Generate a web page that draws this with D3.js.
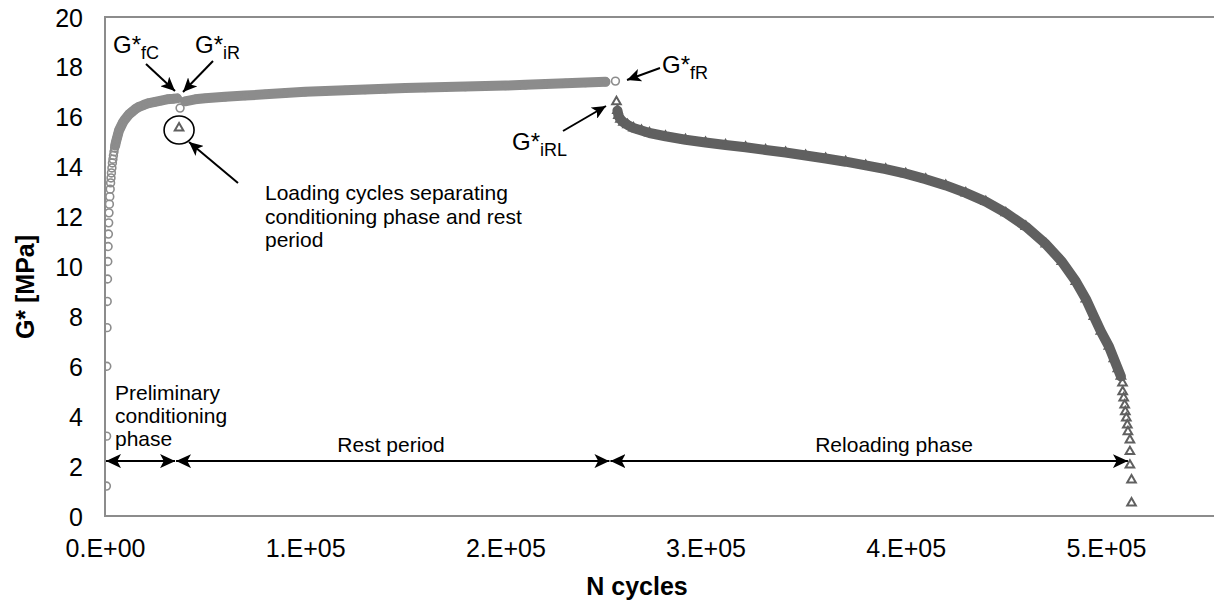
<!DOCTYPE html>
<html>
<head>
<meta charset="utf-8">
<script src="https://cdn.jsdelivr.net/npm/d3@7"></script>
<style>
  body { margin: 0; background: #fff; }
  svg { display: block; font-family: "Liberation Sans", Arial, sans-serif; }
</style>
</head>
<body>
<svg id="chart" width="1214" height="603"></svg>
<script>
// Complex shear modulus G* [MPa] against number of loading cycles N.
// Each entry is [N, G*].

// Preliminary conditioning phase (circles)
const conditioning = [
  [700, 1.2], [800, 3.2], [900, 6.0], [1000, 7.55], [1100, 8.6], [1250, 9.5],
  [1400, 10.2], [1550, 10.8], [1700, 11.3], [1850, 11.75], [2000, 12.15],
  [2200, 12.5], [2400, 12.8], [2600, 13.1], [2800, 13.35], [3000, 13.55],
  [3200, 13.75], [3450, 13.95], [3700, 14.15], [3950, 14.3], [4200, 14.45],
  [4500, 14.6], [4800, 14.75], [5100, 14.85], [5500, 15.0], [6000, 15.15],
  [6500, 15.3], [7000, 15.45], [7600, 15.55], [8200, 15.65], [9000, 15.78],
  [10000, 15.9], [11000, 16.0], [12000, 16.1], [13500, 16.2], [15000, 16.3],
  [17000, 16.4], [19500, 16.48], [22000, 16.55], [25000, 16.6], [28000, 16.65],
  [31000, 16.7], [34000, 16.72], [36000, 16.74]
];

// Rest period (circles)
const restPeriod = [
  [37500, 16.35], [40000, 16.62], [45000, 16.7], [50000, 16.74], [60000, 16.8],
  [70000, 16.85], [80000, 16.9], [90000, 16.95], [100000, 17.0], [110000, 17.03],
  [120000, 17.06], [130000, 17.09], [140000, 17.12], [150000, 17.15],
  [160000, 17.17], [170000, 17.19], [180000, 17.21], [190000, 17.23],
  [200000, 17.25], [210000, 17.28], [220000, 17.31], [230000, 17.34],
  [240000, 17.37], [250000, 17.4], [255000, 17.43]
];

// Loading cycles between conditioning phase and rest period (triangle)
const separatingCycles = [[37000, 15.55]];

// Reloading phase (triangles)
const reloading = [
  [255500, 16.6], [256000, 16.25], [256500, 16.05], [257500, 15.9],
  [259000, 15.78], [261000, 15.68], [264000, 15.55], [268000, 15.45],
  [272000, 15.35], [280000, 15.22], [290000, 15.08], [300000, 14.97],
  [310000, 14.87], [320000, 14.78], [330000, 14.67], [340000, 14.57],
  [350000, 14.45], [360000, 14.33], [370000, 14.2], [380000, 14.05],
  [390000, 13.9], [400000, 13.72], [410000, 13.5], [420000, 13.25],
  [430000, 12.95], [440000, 12.6], [450000, 12.15], [460000, 11.6],
  [470000, 10.9], [478000, 10.2], [485000, 9.4], [490000, 8.7],
  [494000, 8.0], [497500, 7.4], [501500, 6.8], [504000, 6.3],
  [506000, 5.9], [507500, 5.6], [508300, 5.33], [508400, 4.98],
  [508900, 4.73], [509400, 4.45], [509700, 4.18], [510200, 3.93],
  [510700, 3.65], [511000, 3.38], [512000, 3.05], [512000, 2.58],
  [512000, 2.04], [512800, 1.44], [512800, 0.52]
];

// Axis ticks
const xTicks = [0, 100000, 200000, 300000, 400000, 500000];
const xTickLabels = ["0.E+00", "1.E+05", "2.E+05", "3.E+05", "4.E+05", "5.E+05"];
const yTicks = [0, 2, 4, 6, 8, 10, 12, 14, 16, 18, 20];
const yTickLabels = ["0", "2", "4", "6", "8", "10", "12", "14", "16", "18", "20"];

// Phase boundaries (cycles) and the G* level of the phase arrows
const phaseBounds = [0, 35000, 252000, 511000];
const phaseArrowLevel = 2.2;

// ---------------------------------------------------------------
const svg = d3.select("#chart");
const W = 1214, H = 603;
const plot = { left: 105, top: 17, bottom: 516, right: 1226 };

const x = d3.scaleLinear().domain([0, 560000]).range([plot.left, plot.right]);
const y = d3.scaleLinear().domain([0, 20]).range([plot.bottom, plot.top]);

const circleColor = "#8c8c8c";
const triColor = "#606060";

// arrowhead markers
const defs = svg.append("defs");
function arrowHead(id, len, half) {
  defs.append("marker")
    .attr("id", id)
    .attr("markerUnits", "userSpaceOnUse")
    .attr("viewBox", `0 ${-half} ${len} ${2 * half}`)
    .attr("refX", len).attr("refY", 0)
    .attr("markerWidth", len).attr("markerHeight", 2 * half)
    .attr("orient", "auto-start-reverse")
    .append("path")
    .attr("d", `M0,${-half} L${len},0 L0,${half} L${len * 0.25},0 Z`)
    .attr("fill", "#000");
}
arrowHead("head", 15, 7);
arrowHead("headSmall", 14, 6.5);

defs.append("clipPath").attr("id", "plotClip")
  .append("rect").attr("x", plot.left).attr("y", plot.top - 6)
  .attr("width", W - plot.left).attr("height", plot.bottom - plot.top + 12);

// frame
const frameColor = "#8c8c8c";
svg.append("path")
  .attr("d", `M${W + 2},${plot.top} H${plot.left} V${plot.bottom} H${W + 2}`)
  .attr("fill", "none").attr("stroke", frameColor).attr("stroke-width", 2);

// axes (labels only, no tick marks)
const tickFont = 25;
const xAxis = d3.axisBottom(x).tickValues(xTicks).tickSize(0).tickPadding(0)
  .tickFormat((d, i) => xTickLabels[i]);
const gx = svg.append("g").attr("transform", `translate(0,${plot.bottom})`).call(xAxis);
gx.select(".domain").remove();
gx.selectAll("text").attr("font-size", tickFont).attr("fill", "#000")
  .attr("font-family", "Liberation Sans, Arial, sans-serif")
  .attr("dy", null).attr("y", 41);

const yAxis = d3.axisLeft(y).tickValues(yTicks).tickSize(0).tickPadding(22)
  .tickFormat((d, i) => yTickLabels[i]);
const gy = svg.append("g").attr("transform", `translate(${plot.left},0)`).call(yAxis);
gy.select(".domain").remove();
gy.selectAll("text").attr("font-size", tickFont).attr("fill", "#000")
  .attr("font-family", "Liberation Sans, Arial, sans-serif")
  .attr("dy", "0.36em");

// axis titles
svg.append("text")
  .attr("transform", "translate(34,287) rotate(-90)")
  .attr("text-anchor", "middle").attr("font-weight", "bold").attr("font-size", 25)
  .text("G* [MPa]");
svg.append("text")
  .attr("x", 637).attr("y", 595)
  .attr("text-anchor", "middle").attr("font-weight", "bold").attr("font-size", 25)
  .text("N cycles");

// data
const g = svg.append("g").attr("clip-path", "url(#plotClip)");
const line = d3.line().x(d => x(d[0])).y(d => y(d[1]));

// dense stretches of markers merge into a solid band
function band(data, color) {
  g.append("path").datum(data)
    .attr("d", line).attr("fill", "none").attr("stroke", color)
    .attr("stroke-width", 10).attr("stroke-linecap", "round").attr("stroke-linejoin", "round");
}
band(conditioning.filter(d => d[0] >= 5000), circleColor);
band(restPeriod.slice(1, -1), circleColor);
band(reloading.slice(1).filter(d => d[1] >= 5.5), triColor);

function circles(data) {
  g.append("g").selectAll("circle").data(data).join("circle")
    .attr("cx", d => x(d[0])).attr("cy", d => y(d[1])).attr("r", 3.9)
    .attr("fill", "none").attr("stroke", circleColor).attr("stroke-width", 1.6);
}
function triangles(data) {
  const sym = d3.symbol(d3.symbolTriangle, 32);
  g.append("g").selectAll("path").data(data).join("path")
    .attr("transform", d => `translate(${x(d[0])},${y(d[1])})`)
    .attr("d", sym).attr("fill", "none").attr("stroke", triColor).attr("stroke-width", 2);
}
circles(conditioning);
circles(restPeriod);
triangles(separatingCycles);
triangles(reloading);

// phase arrows
const ay = y(phaseArrowLevel);
for (let i = 0; i < phaseBounds.length - 1; i++) {
  svg.append("line")
    .attr("x1", x(phaseBounds[i]) + 1).attr("x2", x(phaseBounds[i + 1]))
    .attr("y1", ay).attr("y2", ay)
    .attr("stroke", "#000").attr("stroke-width", 2)
    .attr("marker-start", "url(#head)").attr("marker-end", "url(#head)");
}

// annotation text
const noteFont = 21;
function block(lines, x0, y0, lh, anchor) {
  const t = svg.append("text").attr("font-size", noteFont).attr("text-anchor", anchor || "start");
  lines.forEach((s, i) => t.append("tspan").attr("x", x0).attr("y", y0 + i * lh).text(s));
}
block(["Preliminary", "conditioning", "phase"], 115, 400, 23);
block(["Rest period"], 391, 452, 0, "middle");
block(["Reloading phase"], 894, 452, 0, "middle");
block(["Loading cycles separating", "conditioning phase and rest", "period"], 265, 200, 23.5);

function gLabel(x0, y0, sub) {
  const t = svg.append("text").attr("x", x0).attr("y", y0).attr("font-size", 24);
  t.append("tspan").text("G*");
  t.append("tspan").attr("font-size", 18).attr("dy", 6).text(sub);
}
gLabel(113, 53, "fC");
gLabel(195, 53, "iR");
gLabel(662, 73, "fR");
gLabel(512, 150, "iRL");

// pointer arrows
function pointer(x1, y1, x2, y2) {
  svg.append("line").attr("x1", x1).attr("y1", y1).attr("x2", x2).attr("y2", y2)
    .attr("stroke", "#000").attr("stroke-width", 2).attr("marker-end", "url(#headSmall)");
}
const sep = separatingCycles[0];
const ex = x(sep[0]), ey = y(sep[1]) + 2;
svg.append("ellipse").attr("cx", ex).attr("cy", ey).attr("rx", 15).attr("ry", 14)
  .attr("fill", "none").attr("stroke", "#000").attr("stroke-width", 1.6);

pointer(146, 64, 175, 91);
pointer(213, 61, 183, 92);
pointer(238, 183, 189, 142);
pointer(660, 68, 627, 80);
pointer(563, 131, 606, 106);
</script>
</body>
</html>
